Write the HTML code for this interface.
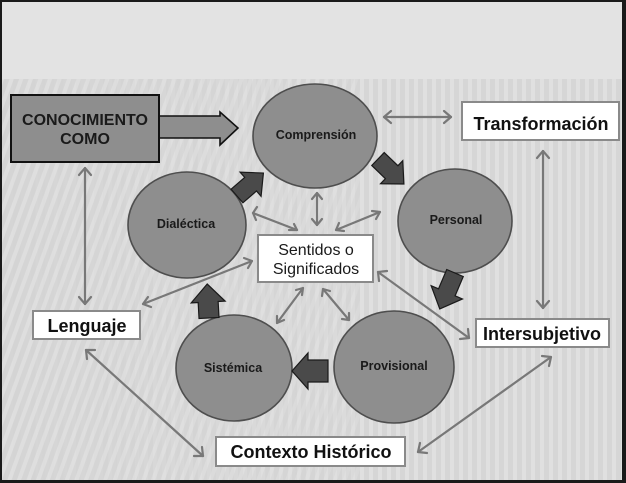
<!DOCTYPE html>
<html><head><meta charset="utf-8"><style>
html,body{margin:0;padding:0;background:#e3e3e3;}
svg{display:block;}
text{font-family:"Liberation Sans",sans-serif;}
</style></head><body>
<svg width="626" height="483" viewBox="0 0 626 483" xmlns="http://www.w3.org/2000/svg">
<defs>
<pattern id="diag" patternUnits="userSpaceOnUse" width="9" height="9" patternTransform="rotate(20)">
<rect width="9" height="9" fill="#d4d4d4"/>
<rect width="4" height="9" fill="#dedede"/>
</pattern>
<pattern id="vert" patternUnits="userSpaceOnUse" width="9" height="9">
<rect width="9" height="9" fill="#d6d6d6"/>
<rect width="4" height="9" fill="#e0e0e0"/>
</pattern>
<linearGradient id="fade" x1="0" y1="0" x2="1" y2="0">
<stop offset="0" stop-color="#fff" stop-opacity="1"/>
<stop offset="1" stop-color="#fff" stop-opacity="0"/>
</linearGradient>
<mask id="leftMask"><rect x="0" y="0" width="626" height="483" fill="url(#fade)"/></mask>
<marker id="ah" viewBox="0 0 10 10" refX="9" refY="5" markerWidth="5" markerHeight="5" orient="auto-start-reverse" markerUnits="userSpaceOnUse">
</marker>
</defs>
<rect x="0" y="0" width="626" height="483" fill="#e3e3e3"/>
<rect x="0" y="79" width="626" height="404" fill="url(#vert)"/>
<rect x="0" y="79" width="360" height="404" fill="url(#diag)" mask="url(#leftMask)"/>

<!-- thin double arrows -->
<g stroke="#787878" stroke-width="2.2" fill="none" stroke-linecap="round" stroke-linejoin="round">
<!-- Comprension <-> Transformacion -->
<line x1="384" y1="117" x2="451" y2="117"/>
<polyline points="391,111 384,117 391,123"/><polyline points="444,111 451,117 444,123"/>
<!-- Transformacion <-> Intersubjetivo -->
<line x1="543" y1="151" x2="543" y2="308"/>
<polyline points="537,158 543,151 549,158"/><polyline points="537,301 543,308 549,301"/>
<!-- Conocimiento <-> Lenguaje -->
<line x1="85" y1="168" x2="85" y2="304"/>
<polyline points="79,175 85,168 91,175"/><polyline points="79,297 85,304 91,297"/>
<!-- Lenguaje <-> Contexto -->
<line x1="86" y1="350" x2="203" y2="456"/>
<polyline points="87,359 86,350 95,350"/><polyline points="194,456 203,456 202,447"/>
<!-- Contexto <-> Intersubjetivo -->
<line x1="418" y1="452" x2="551" y2="357"/>
<polyline points="420,443 418,452 427,453"/><polyline points="542,356 551,357 549,366"/>
<!-- Lenguaje <-> Sentidos -->
<line x1="143" y1="304" x2="252" y2="261"/>
<polyline points="148,297 143,304 151,307"/><polyline points="244,258 252,261 248,268"/>
<!-- Sentidos <-> Intersubjetivo -->
<line x1="378" y1="272" x2="469" y2="338"/>
<polyline points="379,281 378,272 387,271"/><polyline points="460,339 469,338 468,329"/>
<!-- Sentidos <-> Comprension -->
<line x1="317" y1="193" x2="317" y2="225"/>
<polyline points="312,199 317,193 322,199"/><polyline points="312,219 317,225 322,219"/>
<!-- Sentidos <-> Dialectica -->
<line x1="253" y1="213" x2="297" y2="230"/>
<polyline points="257,207 253,213 256,220"/><polyline points="289,230 297,230 294,224"/>
<!-- Sentidos <-> Personal -->
<line x1="336" y1="230" x2="380" y2="212"/>
<polyline points="344,231 336,230 339,223"/><polyline points="372,211 380,212 376,219"/>
<!-- Sentidos <-> Sistemica -->
<line x1="303" y1="288" x2="277" y2="323"/>
<polyline points="302,295 303,288 296,290"/><polyline points="277,316 277,323 284,320"/>
<!-- Sentidos <-> Provisional -->
<line x1="323" y1="289" x2="349" y2="320"/>
<polyline points="322,296 323,289 330,291"/><polyline points="349,313 349,320 342,319"/>
</g>

<!-- ellipses -->
<g fill="#8e8e8e" stroke="#4e4e4e" stroke-width="1.6">
<ellipse cx="315" cy="136" rx="62" ry="52"/>
<ellipse cx="187" cy="225" rx="59" ry="53"/>
<ellipse cx="455" cy="221" rx="57" ry="52"/>
<ellipse cx="234" cy="368" rx="58" ry="53"/>
<ellipse cx="394" cy="367" rx="60" ry="56"/>
</g>

<!-- block arrows -->
<g fill="#4a4a4a" stroke="#1a1a1a" stroke-width="1.2" stroke-linejoin="miter">
<polygon transform="translate(237,196) rotate(-41)" points="0,-9 18,-9 18,-16 35,0 18,16 18,9 0,9"/>
<polygon transform="translate(378,159) rotate(44)" points="0,-9 19,-9 19,-16 36,0 19,16 19,9 0,9"/>
<polygon transform="translate(455,273) rotate(113)" points="0,-9 21,-9 21,-17 39,0 21,17 21,9 0,9"/>
<polygon transform="translate(328,371) rotate(180)" points="0,-11 20,-11 20,-18 36,0 20,18 20,11 0,11"/>
<polygon transform="translate(209,318) rotate(-93)" points="0,-10 16,-10 16,-17 34,0 16,17 16,10 0,10"/>
</g>

<!-- Conocimiento box + arrow -->
<polygon points="158,116 220,116 220,112 238,128 220,145 220,138 158,138" fill="#8e8e8e" stroke="#111" stroke-width="1.6"/>
<rect x="11" y="95" width="148" height="67" fill="#8e8e8e" stroke="#111" stroke-width="2"/>
<text x="85" y="125" font-size="16" font-weight="bold" fill="#1a1a1a" text-anchor="middle">CONOCIMIENTO</text>
<text x="85" y="144" font-size="16" font-weight="bold" fill="#1a1a1a" text-anchor="middle">COMO</text>

<!-- white boxes -->
<g fill="#ffffff" stroke="#8a8a8a" stroke-width="2">
<rect x="462" y="102" width="157" height="38"/>
<rect x="258" y="235" width="115" height="47"/>
<rect x="33" y="311" width="107" height="28"/>
<rect x="476" y="319" width="133" height="28"/>
<rect x="216" y="437" width="189" height="29"/>
</g>
<g font-weight="bold" font-size="18" fill="#111" text-anchor="middle">
<text x="541" y="130">Transformación</text>
<text x="87" y="332">Lenguaje</text>
<text x="542" y="340">Intersubjetivo</text>
<text x="311" y="458">Contexto Histórico</text>
</g>
<g font-size="16" fill="#1a1a1a" text-anchor="middle">
<text x="316" y="255">Sentidos o</text>
<text x="316" y="274">Significados</text>
</g>
<g font-size="12.5" font-weight="bold" fill="#1a1a1a" text-anchor="middle">
<text x="316" y="139">Comprensión</text>
<text x="186" y="228">Dialéctica</text>
<text x="456" y="224">Personal</text>
<text x="233" y="372">Sistémica</text>
<text x="394" y="370">Provisional</text>
</g>

<!-- frame -->
<rect x="0" y="0" width="626" height="2" fill="#1a1a1a"/>
<rect x="0" y="0" width="2" height="483" fill="#1a1a1a"/>
<rect x="622" y="0" width="4" height="483" fill="#1a1a1a"/>
<rect x="0" y="480" width="626" height="3" fill="#1a1a1a"/>
</svg>
</body></html>
